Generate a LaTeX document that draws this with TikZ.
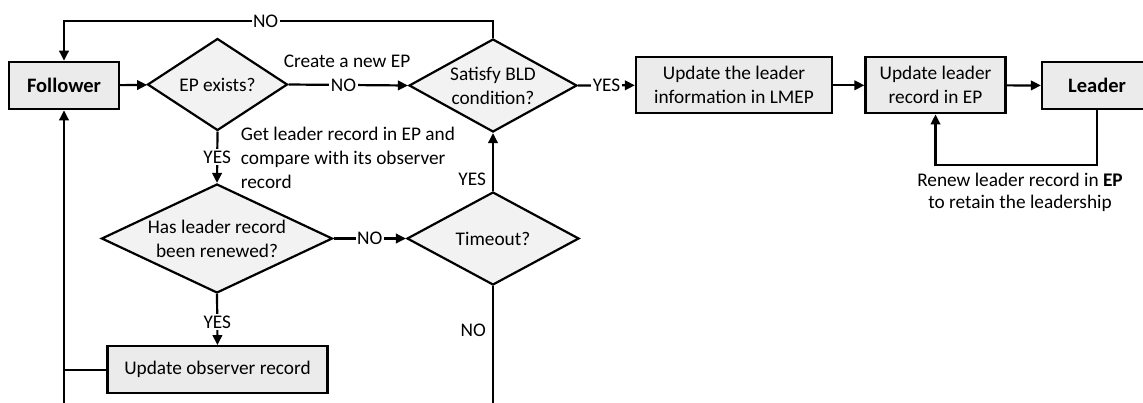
\documentclass[tikz,border=0pt]{standalone}
\usepackage{fontspec}
\setmainfont{Carlito}
\usetikzlibrary{arrows.meta}
\usetikzlibrary{shapes.geometric}
\definecolor{boxgray}{HTML}{EBEBEB}
\definecolor{diagray}{HTML}{F2F2F2}
\tikzset{wire/.style = {line width = 2.2pt}}
\tikzset{flow/.style = {wire, -{Triangle[length = 10pt, width = 9.5pt]}}}
\tikzset{block/.style = {draw, fill = boxgray, line width = 2.2pt, align = center, inner sep = 2pt}}
\tikzset{decision/.style = {draw, diamond, fill = diagray, line width = 2.2pt, inner sep = 0pt}}
\tikzset{dtext/.style = {align = center, inner sep = 0pt}}
\tikzset{ans/.style = {fill = white, inner sep = 1.5pt}}
\newcommand{\bigbf}{\fontsize{20.5}{24}\selectfont\bfseries}

\begin{document}
\begin{tikzpicture}[x = 1pt, y = -1pt, font = \fontsize{19.3}{24}\selectfont]

      \useasboundingbox (0, 0) rectangle (1143, 402);
      \clip (0, 0) rectangle (1143, 402);

      \coordinate (top) at (0, 21);
      \coordinate (bot) at (0, 420);

      \node [block, minimum width = 110, minimum height = 47.5, font = \bigbf] (follower) at (64, 85.5) {Follower};
      \node [decision, minimum width = 140, minimum height = 92, label = {[dtext]center:EP exists?}] (ep) at (217.5, 84.5) {};
      \node [decision, minimum width = 168, minimum height = 93, label = {[dtext]center:Satisfy BLD\\condition?}] (bld) at (493, 85.5) {};
      \node [block, minimum width = 196, minimum height = 56] (lmep) at (734, 85.3) {Update the leader\\information in LMEP};
      \node [block, minimum width = 140, minimum height = 56] (eprec) at (935.5, 85.3) {Update leader\\record in EP};
      \node [block, minimum width = 110, minimum height = 47.5, font = \bigbf] (leader) at (1097, 85.5) {Leader};
      \node [decision, minimum width = 231, minimum height = 109, label = {[dtext]center:Has leader record\\been renewed?}] (renew) at (217, 238.5) {};
      \node [decision, minimum width = 172, minimum height = 93, label = {[dtext]center:Timeout?}] (timeout) at (493, 238.5) {};
      \node [block, minimum width = 220, minimum height = 47] (observer) at (217.5, 369.7) {Update observer record};

      \node (newep) at (347, 61) {Create a new EP};
      \node [anchor = west, align = left, inner sep = 0] (gettxt) at (240.7, 157.5) {Get leader record in EP and\\compare with its observer\\record};
      \node [align = center, font = \fontsize{19.3}{22}\selectfont] (renewtxt) at (1020, 192.5) {Renew leader record in \textbf{EP}\\to retain the leadership};

      \draw [flow] (follower) -- (ep);
      \draw [flow] (ep.east) -- node [ans, pos = 0.46] {NO} (bld.west);
      \draw [flow] (bld.east) -- node [ans] {YES} (lmep.west);
      \draw [flow] (lmep) -- (eprec);
      \draw [flow] (eprec) -- (leader);
      \draw [flow] (leader.south) -- ++(0, 55) -| (eprec.south);
      \draw [flow] (bld.north) -- (bld.north |- top) -- node [ans, pos = 0.53] {NO} (follower.north |- top) -- (follower.north);
      \draw [flow] (ep.south) -- node [ans] {YES} (renew.north);
      \draw [flow] (renew.east) -- node [ans] {NO} (timeout.west);
      \draw [flow] (timeout.north) -- node [left = 6pt, pos = 0.2, inner sep = 0] {YES} (bld.south);
      \draw [wire] (timeout.south) -- node [left = 6pt, pos = 0.33, inner sep = 0] {NO} (timeout.south |- bot);
      \draw [flow] (renew.south) -- node [ans, pos = 0.55] {YES} (observer.north);
      \draw [wire] (observer.west) -- (follower.south |- observer.west);
      \draw [flow] (follower.south |- bot) -- (follower.south);

    \end{tikzpicture}
\end{document}
